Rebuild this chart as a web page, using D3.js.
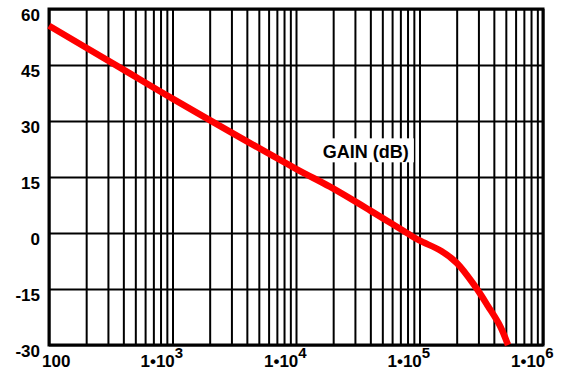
<!DOCTYPE html>
<html>
<head>
<meta charset="utf-8">
<script src="https://cdn.jsdelivr.net/npm/d3@7"></script>
<style>
  html, body { margin: 0; padding: 0; background: #fff; }
  svg { display: block; }
  text { font-family: "Liberation Sans", Arial, sans-serif; font-weight: bold; fill: #000; }
</style>
</head>
<body>
<svg id="chart" width="566" height="371"></svg>
<script>
// ---- data ----
const freqHz = [100, 376, 1000, 10000, 18800, 40000, 79000, 100000, 150000, 200000, 281000, 359000, 449000, 521000];
const gainDb = [55.5, 44.3, 36.0, 17.2, 12.4, 6.0, 0.0, -2.0, -4.8, -8.0, -14.2, -19.6, -24.9, -30.0];
const yTicks = [60, 45, 30, 15, 0, -15, -30];
const xDecades = [100, 1000, 10000, 100000, 1000000];
const xDecadeExp = [null, 3, 4, 5, 6];
const seriesLabel = "GAIN (dB)";
const labelAt = { f: 16500, g: 20 };

// ---- layout ----
const mLeft = 49, mRight = 543, mTop = 9, mBottom = 345;
const svg = d3.select("#chart");
const x = d3.scaleLog().domain([100, 1e6]).range([mLeft, mRight]);
const y = d3.scaleLinear().domain([-30, 60]).range([mBottom, mTop]);

// grid values: 1..9 x each decade
const gridX = [];
for (let d = 100; d < 1e6; d *= 10) for (let m = 1; m <= 9; m++) gridX.push(d * m);
gridX.push(1e6);

const gx = svg.append("g")
  .attr("transform", `translate(0,${mBottom})`)
  .call(d3.axisBottom(x).tickValues(gridX).tickSize(-(mBottom - mTop)).tickFormat(""));
gx.select(".domain").remove();
gx.selectAll("line").attr("stroke", "#000").attr("stroke-width", 2);

const gy = svg.append("g")
  .attr("transform", `translate(${mLeft},0)`)
  .call(d3.axisLeft(y).tickValues(yTicks).tickSize(-(mRight - mLeft)).tickFormat(""));
gy.select(".domain").remove();
gy.selectAll("line").attr("stroke", "#000").attr("stroke-width", 2);

// y labels
svg.append("g").selectAll("text").data(yTicks).join("text")
  .attr("x", mLeft - 9)
  .attr("y", d => y(d) + 12)
  .attr("text-anchor", "end")
  .style("font-size", "17px")
  .text(d => d);

// x labels
const xl = svg.append("g").selectAll("text").data(xDecades).join("text")
  .attr("y", 367)
  .style("font-size", "17px");
xl.each(function(d, i) {
  const t = d3.select(this);
  if (xDecadeExp[i] === null) {
    t.attr("x", x(d) - 7).text(d);
  } else {
    t.attr("x", x(d) - 32);
    t.append("tspan").text("1\u202210");
    t.append("tspan").attr("dy", -9).style("font-size", "15px").text(xDecadeExp[i]);
  }
});

// frame
svg.append("rect")
  .attr("x", mLeft).attr("y", mTop)
  .attr("width", mRight - mLeft).attr("height", mBottom - mTop)
  .attr("fill", "none").attr("stroke", "#000").attr("stroke-width", 3);

// series label with white background
const bgRect = svg.append("rect").attr("fill", "#fff");
const lbl = svg.append("text")
  .attr("x", x(labelAt.f)).attr("y", y(labelAt.g))
  .style("font-size", "18px")
  .text(seriesLabel);
const bb = lbl.node().getBBox();
bgRect
  .attr("x", bb.x - 5).attr("y", bb.y - 4)
  .attr("width", bb.width + 10).attr("height", bb.height + 4);

// curve
const line = d3.line()
  .x((d, i) => x(freqHz[i]))
  .y((d, i) => y(gainDb[i]))
  .curve(d3.curveCatmullRom);
svg.append("path")
  .datum(gainDb)
  .attr("d", line)
  .attr("fill", "none")
  .attr("stroke", "#ff0000")
  .attr("stroke-width", 6.5);
</script>
</body>
</html>
